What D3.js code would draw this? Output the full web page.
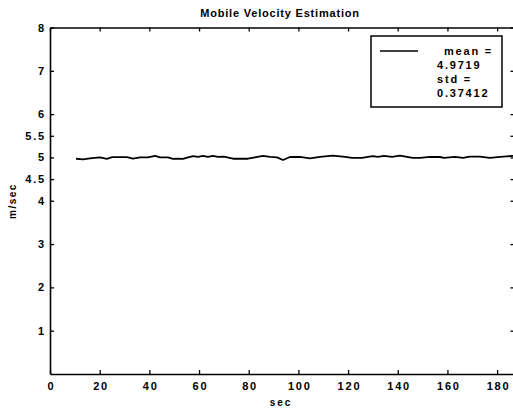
<!DOCTYPE html>
<meta charset="utf-8">
<script src="https://d3js.org/d3.v7.min.js"></script>
<style>
body { margin: 0; background: #fff; }
text { font-family: "Liberation Sans", Arial, sans-serif; font-weight: bold; fill: #000; }
</style>
<div id="chart"></div>
<script>
// estimated velocity samples
var secs = [10.5, 13.3, 16.1, 20.1, 22.9, 25, 28.2, 31, 33.4, 36.2, 39.5, 42.3, 44.3, 47.5,
  49.5, 51.5, 53.5, 55.6, 57.6, 59.6, 61.6, 63.6, 65.6, 67.6, 70, 73.7, 76.5, 79.7, 82.5,
  85.7, 88.6, 91.4, 93.8, 96.6, 100.6, 104.7, 108.7, 113.9, 118.8, 121.6, 125.6, 128, 130,
  132, 134.5, 137.7, 140.9, 143.7, 146.1, 149, 153, 157, 158.6, 163, 166.3, 169, 173, 177.1,
  181.2, 186.4, 188];
var vel = [4.97, 4.955, 4.98, 5.00, 4.965, 5.005, 5.005, 5.005, 4.97, 5.00, 5.00, 5.035, 5.00, 5.00,
  4.965, 4.97, 4.965, 5.00, 5.03, 5.015, 5.035, 5.015, 5.035, 5.015, 5.02, 4.97, 4.97, 4.97, 5.00,
  5.035, 5.015, 5.00, 4.94, 5.01, 5.015, 4.98, 5.015, 5.04, 5.015, 4.99, 4.99, 5.015, 5.03,
  5.015, 5.035, 5.015, 5.04, 5.015, 4.99, 4.99, 5.015, 5.01, 4.99, 5.015, 4.99, 5.02, 5.02, 4.99,
  5.015, 5.035, 5.035];
var xTicks = [0, 20, 40, 60, 80, 100, 120, 140, 160, 180];
var yTicks = [1, 2, 3, 4, 4.5, 5, 5.5, 6, 7, 8];
var legendLines = ["mean =", "4.9719", "std =", "0.37412"];

var W = 513, H = 410;
var margin = {top: 27.5, right: -1.5, bottom: 36, left: 50};
var width = W - margin.left - margin.right,
    height = H - margin.top - margin.bottom;

var svg = d3.select("#chart").append("svg")
    .attr("width", W).attr("height", H);
var g = svg.append("g")
    .attr("transform", "translate(" + margin.left + "," + margin.top + ")");

var x = d3.scaleLinear().domain([0, 187]).range([0, width]);
var y = d3.scaleLinear().domain([0, 8]).range([height, 0]);

function styleAxis(sel, showText) {
  sel.select(".domain").attr("stroke", "#000").attr("stroke-width", 1.6);
  sel.selectAll(".tick line").attr("stroke", "#000").attr("stroke-width", 1.3);
  sel.selectAll(".tick text")
    .style("font-size", "11px").style("letter-spacing", "1.8px")
    .attr("fill", "#000").style("font-family", "Liberation Sans, Arial, sans-serif")
    .style("font-weight", "bold");
  if (!showText) sel.selectAll(".tick text").remove();
}

g.append("g").attr("transform", "translate(0," + height + ")")
  .call(d3.axisBottom(x).tickValues(xTicks).tickSizeInner(-4).tickSizeOuter(0).tickPadding(8))
  .call(styleAxis, true)
  .selectAll(".tick text").attr("dx", "0.9px");
g.append("g")
  .call(d3.axisTop(x).tickValues(xTicks).tickSizeInner(-4).tickSizeOuter(0))
  .call(styleAxis, false);
g.append("g")
  .call(d3.axisLeft(y).tickValues(yTicks).tickFormat(d3.format("~g"))
    .tickSizeInner(-4).tickSizeOuter(0).tickPadding(4))
  .call(styleAxis, true);
g.append("g").attr("transform", "translate(" + width + ",0)")
  .call(d3.axisRight(y).tickValues(yTicks).tickSizeInner(-4).tickSizeOuter(0))
  .call(styleAxis, false);

var data = secs.map(function(s, i) { return {t: s, v: vel[i]}; });
g.append("path").datum(data)
  .attr("fill", "none").attr("stroke", "#000").attr("stroke-width", 1.8)
  .attr("stroke-linejoin", "round")
  .attr("d", d3.line().x(function(d) { return x(d.t); }).y(function(d) { return y(d.v); }));

// legend
var lg = svg.append("g").attr("transform", "translate(371,36)");
lg.append("rect").attr("width", 131).attr("height", 71)
  .attr("fill", "#fff").attr("stroke", "#000").attr("stroke-width", 1.5);
lg.append("line").attr("x1", 9).attr("x2", 47).attr("y1", 15).attr("y2", 15)
  .attr("stroke", "#000").attr("stroke-width", 1.5);
lg.selectAll("text.leg").data(legendLines).enter().append("text")
  .attr("class", "leg")
  .attr("x", function(d, i) { return i === 0 ? 73 : 66; })
  .attr("y", function(d, i) { return 19 + i * 14; })
  .style("font-size", "11px").style("letter-spacing", "1.8px")
  .text(function(d) { return d; });

svg.append("text").attr("x", 280).attr("y", 17).attr("text-anchor", "middle")
  .style("font-size", "11px").style("letter-spacing", "0.8px")
  .text("Mobile Velocity Estimation");
svg.append("text").attr("x", 281).attr("y", 406).attr("text-anchor", "middle")
  .style("font-size", "10px").style("letter-spacing", "2px")
  .text("sec");
svg.append("text").attr("transform", "translate(16,201) rotate(-90)").attr("text-anchor", "middle")
  .style("font-size", "10px").style("letter-spacing", "1.5px")
  .text("m/sec");
</script>
